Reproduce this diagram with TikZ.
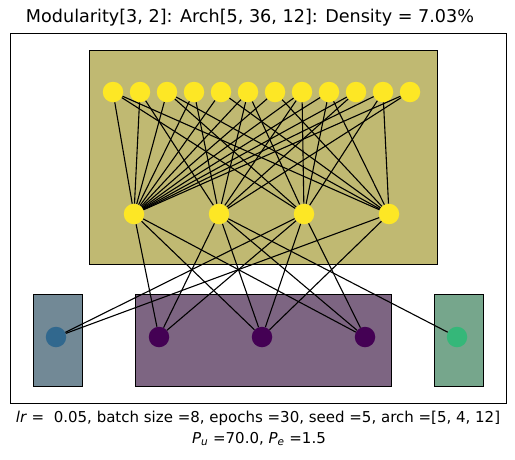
\documentclass[tikz,border=0pt]{standalone}
\usepackage{fontspec}
\setmainfont{DejaVu Sans}
\definecolor{vyellow}{RGB}{253,231,37}
\definecolor{vblue}{RGB}{49,104,142}
\definecolor{vpurple}{RGB}{68,1,84}
\definecolor{vgreen}{RGB}{53,183,121}
\definecolor{boxyellow}{RGB}{192,185,114}
\definecolor{boxblue}{RGB}{114,137,150}
\definecolor{boxpurple}{RGB}{125,101,130}
\definecolor{boxgreen}{RGB}{118,166,140}

\begin{document}
\begin{tikzpicture}[x=1pt,y=-1pt,
  unit/.style={circle,fill=#1,inner sep=0pt,minimum size=20.5pt},
  link/.style={black,line width=1.1pt},
  module/.style={draw=black,line width=0.9pt,fill=#1}]
\useasboundingbox (0,0) rectangle (515,459);

% Title and frame
\node (title) at (250,18) {\fontsize{17.6}{20}\selectfont Modularity[3, 2]: Arch[5, 36, 12]: Density = 7.03\%};
\draw[line width=0.9pt] (10,33) rectangle (506,403);

% Modules
\draw[module=boxyellow] (89,50) rectangle (437,264);
\draw[module=boxblue] (33,294) rectangle (82,386);
\draw[module=boxpurple] (135,294) rectangle (391,386);
\draw[module=boxgreen] (434,294) rectangle (483,386);

% Layer 1 (12 units)
\foreach \i in {1,...,12} {
    \node[unit=vyellow] (t\i) at ({113+27*(\i-1)},92) {};
}
% Layer 2 (4 units)
\foreach \j in {1,...,4} {
    \node[unit=vyellow] (m\j) at ({134+85*(\j-1)},214) {};
}
% Layer 3 (5 units)
\node[unit=vblue] (o1) at (56,337) {};
\foreach \k in {2,3,4} {
    \node[unit=vpurple] (o\k) at ({159+103*(\k-2)},337) {};
}
\node[unit=vgreen] (o5) at (457,337) {};

% Connections
\foreach \a in {1,...,12} {
    \draw[link] (t\a) -- (m1);
}
\foreach \a/\b in {2/2,4/2,6/2,8/2,10/2,12/2,
                   1/3,3/3,6/3,8/3,9/3,11/3,
                   1/4,3/4,5/4,7/4,9/4,11/4} {
    \draw[link] (t\a) -- (m\b);
}
\foreach \a/\b in {1/2,1/3,1/4,2/2,2/3,2/4,2/5,3/1,3/2,3/3,3/4,4/1,4/3} {
    \draw[link] (m\a) -- (o\b);
}

% Caption
\node (cap1) at (258,418) {\fontsize{15}{17}\selectfont \textit{lr} =\ \ 0.05, batch size =8, epochs =30, seed =5, arch =[5, 4, 12]};
\node (cap2) at (259,439) {\fontsize{15}{17}\selectfont \textit{P}\textsubscript{\textit{u}} =70.0, \textit{P}\textsubscript{\textit{e}} =1.5};
\end{tikzpicture}
\end{document}
